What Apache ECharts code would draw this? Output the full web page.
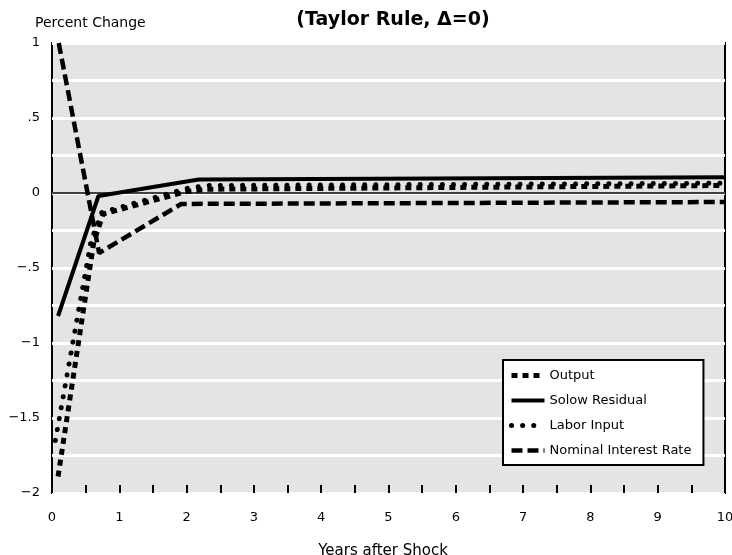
<!DOCTYPE html>
<html>
<head>
<meta charset="utf-8">
<script src="https://cdn.jsdelivr.net/npm/echarts@6/dist/echarts.min.js"></script>
<style>html,body{margin:0;padding:0;background:#fff}#c{width:732px;height:555px}</style>
</head>
<body>
<div id="c"></div>
<script>
var seriesNames = ['Output', 'Solow Residual', 'Labor Input', 'Nominal Interest Rate'];
var outputData = [[0.09, -1.89], [0.62, -0.33], [0.76, -0.14], [2.0, 0.01], [2.3, 0.025], [10, 0.05]];
var solowData = [[0.09, -0.82], [0.69, -0.02], [2.18, 0.09], [10, 0.105]];
var laborData = [[0.05, -1.65], [0.58, -0.32], [0.74, -0.13], [2.0, 0.03], [2.3, 0.05], [10, 0.065]];
var interestData = [[0.1, 1.0], [0.7, -0.4], [1.92, -0.073], [10, -0.06]];
var xTicks = [0, 10, 0.5];
var yTicks = [-2, 1, 0.25];

var FONT = 'DejaVu Sans';
var styles = [
  {color: '#000', width: 5, type: [6, 5], cap: 'butt'},
  {color: '#000', width: 4, type: 'solid', cap: 'butt'},
  {color: '#000', width: 5, type: [0.1, 11], cap: 'round'},
  {color: '#000', width: 4.5, type: [11, 5], cap: 'butt'}
];
var chart = echarts.init(document.getElementById('c'), null, {renderer: 'canvas'});
function yFmt(v) {
  if (v === 0) return '0';
  if (Math.abs(v % 0.5) > 1e-9) return '';
  var s = String(Math.abs(v)).replace(/^0\./, '.');
  return (v < 0 ? '\u2212' : '') + s;
}
var datas = [outputData, solowData, laborData, interestData];
var series = seriesNames.map(function (n, i) {
  var s = {name: n, type: 'line', data: datas[i], symbol: 'none', z: i === 1 ? 4 : 3,
           itemStyle: {color: '#000'}, lineStyle: styles[i]};
  if (i === 0) {
    s.markLine = {silent: true, symbol: 'none', label: {show: false},
                  lineStyle: {color: '#000', width: 1.5, type: 'solid'}, data: [{yAxis: 0}]};
  }
  return s;
});
chart.setOption({
  animation: false,
  backgroundColor: '#fff',
  title: [
    {text: '(Taylor Rule, \u0394=0)', left: 388, top: 6, textAlign: 'center',
     textStyle: {fontFamily: FONT, fontWeight: 'bold', fontSize: 19, color: '#000'}},
    {text: 'Percent Change', left: 30, top: 11,
     textStyle: {fontFamily: FONT, fontWeight: 'normal', fontSize: 14, color: '#000'}},
    {text: 'Years after Shock', left: 378, top: 539, textAlign: 'center',
     textStyle: {fontFamily: FONT, fontWeight: 'normal', fontSize: 15, color: '#000'}}
  ],
  grid: {left: 52, right: 7, top: 43, bottom: 62, show: true, containLabel: false,
         outerBoundsMode: 'none',
         backgroundColor: '#e4e4e4', borderColor: '#000', borderWidth: 2},
  legend: {
    orient: 'vertical', left: 503, top: 360,
    data: seriesNames.map(function (n, i) {
      return {name: n, lineStyle: styles[i], itemStyle: {color: 'rgba(0,0,0,0)', borderWidth: 0, opacity: 0}};
    }),
    backgroundColor: '#fff', borderColor: '#000', borderWidth: 2,
    padding: [9, 12, 8, 6], itemGap: 12, itemWidth: 33, itemHeight: 14,
    textStyle: {fontFamily: FONT, fontSize: 13, color: '#000'}
  },
  xAxis: {
    type: 'value', min: xTicks[0], max: xTicks[1], interval: xTicks[2],
    axisLine: {show: false, onZero: false},
    axisTick: {show: true, inside: true, length: 8, lineStyle: {color: '#000', width: 2}},
    splitLine: {show: false},
    axisLabel: {fontFamily: FONT, fontSize: 13, color: '#000', margin: 18,
                formatter: function (v) { return Number.isInteger(v) ? String(v) : ''; }}
  },
  yAxis: {
    type: 'value', min: yTicks[0], max: yTicks[1], interval: yTicks[2],
    axisLine: {show: false, onZero: false}, axisTick: {show: false},
    splitLine: {show: true, lineStyle: {color: '#fff', width: 3}},
    axisLabel: {fontFamily: FONT, fontSize: 13, color: '#000', margin: 12, formatter: yFmt}
  },
  series: series
});
</script>
</body>
</html>
